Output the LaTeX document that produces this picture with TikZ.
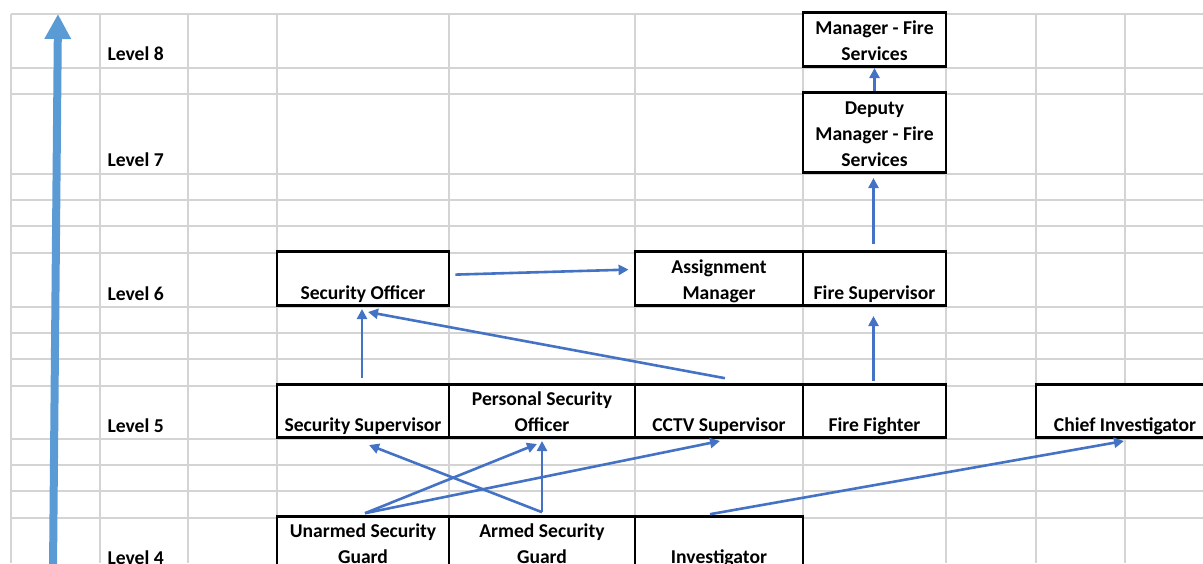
\documentclass[tikz,border=0pt]{standalone}
\usepackage{fontspec}
\setmainfont{Carlito}
\usetikzlibrary{arrows.meta}
\definecolor{gridgray}{RGB}{212,212,212}
\definecolor{linkblue}{RGB}{68,114,196}
\definecolor{axisblue}{RGB}{91,155,213}
\newcommand{\jobtext}[1]{\begin{tabular}[b]{@{}c@{}}#1\end{tabular}}
\tikzset{
  every node/.style={font=\fontsize{19.6}{26}\selectfont\bfseries},
  grid/.style={gridgray, line width=1.3pt},
  box/.style 2 args={draw=black, line width=2.8pt, fill=white, inner sep=0pt,
    anchor=south, minimum width=#1, text height=#2, text depth=6pt},
  link/.style={linkblue, line width=2.6pt, -{Triangle[length=10pt, width=10pt]}},
  axis/.style={axisblue, line width=8pt, -{Triangle[length=25pt, width=25pt]}},
  level/.style={anchor=base west}
}
\begin{document}
\begin{tikzpicture}[x=1pt, y=-1pt]
    \clip (0,0) rectangle (1203,563);
    % sheet grid
    \foreach \x in {11,100,188,277,449,635,803,946,1036,1125}
        \draw [grid] (\x,14) -- (\x,563);
    \foreach \y in {14,68,94,174,200,226,253,307,333,359,386,439,465,491,518}
        \draw [grid] (11,\y) -- (1203,\y);

    \coordinate (axbot) at (53,570);
    \coordinate (axtop) at (58,14);
    \draw [axis] (axbot) -- (axtop);

    \node[level] (lvl8) at (104,60) {Level 8};
    \node[level] (lvl7) at (104,166) {Level 7};
    \node[level] (lvl6) at (104,300) {Level 6};
    \node[level] (lvl5) at (104,432) {Level 5};
    \node[level] (lvl4) at (104,564) {Level 4};

    % boxes
    \node[box={143pt}{48pt}] (mgr) at (874.5,68) {\jobtext{Manager - Fire\\Services}};
    \node[box={143pt}{74pt}] (dep) at (874.5,174) {\jobtext{Deputy\\Manager - Fire\\Services}};
    \node[box={172pt}{48pt}] (secoff) at (363,307) {Security Officer};
    \node[box={168pt}{48pt}] (assign) at (719,307) {\jobtext{Assignment\\Manager}};
    \node[box={143pt}{48pt}] (firesup) at (874.5,307) {Fire Supervisor};
    \node[box={172pt}{47pt}] (secsup) at (363,439) {Security Supervisor};
    \node[box={186pt}{47pt}] (pso) at (542,439) {\jobtext{Personal Security\\Officer}};
    \node[box={168pt}{47pt}] (cctv) at (719,439) {CCTV Supervisor};
    \node[box={143pt}{47pt}] (fighter) at (874.5,439) {Fire Fighter};
    \node[box={178pt}{47pt}] (chief) at (1125,439) {Chief Investigator};
    \node[box={172pt}{47pt}] (unarmed) at (363,571) {\jobtext{Unarmed Security\\Guard}};
    \node[box={186pt}{47pt}] (armed) at (542,571) {\jobtext{Armed Security\\Guard}};
    \node[box={168pt}{47pt}] (invest) at (719,571) {Investigator};

    % links
    \draw [link] (dep.north) -- (mgr.south);
    \draw [link] ([shift={(-1,-6)}]firesup.north) -- ([shift={(-1,4)}]dep.south);
    \draw [link] ([shift={(-1,-2)}]fighter.north) -- ([shift={(-1,9)}]firesup.south);
    \draw [link] ([shift={(5,-4)}]secoff.east) -- ([shift={(-5,-9)}]assign.west);
    \draw [link] ([shift={(6,-5)}]cctv.north) -- ([shift={(5,5)}]secoff.south);
    \draw [link] ([shift={(-1,-5)}]secsup.north) -- ([shift={(-1,2)}]secoff.south);
    \draw [link] ([shift={(2,-2)}]unarmed.north) -- ([shift={(-5,5)}]pso.south);
    \draw [link] ([shift={(2,-2)}]unarmed.north) -- ([shift={(1,2)}]cctv.south);
    \draw [link] ([shift={(0,-3)}]armed.north) -- ([shift={(6,6)}]secsup.south);
    \draw [link] ([shift={(0,-3)}]armed.north) -- ([shift={(0,2)}]pso.south);
    \draw [link] ([shift={(-9,-1)}]invest.north) -- ([shift={(-1,2)}]chief.south);
\end{tikzpicture}
\end{document}
